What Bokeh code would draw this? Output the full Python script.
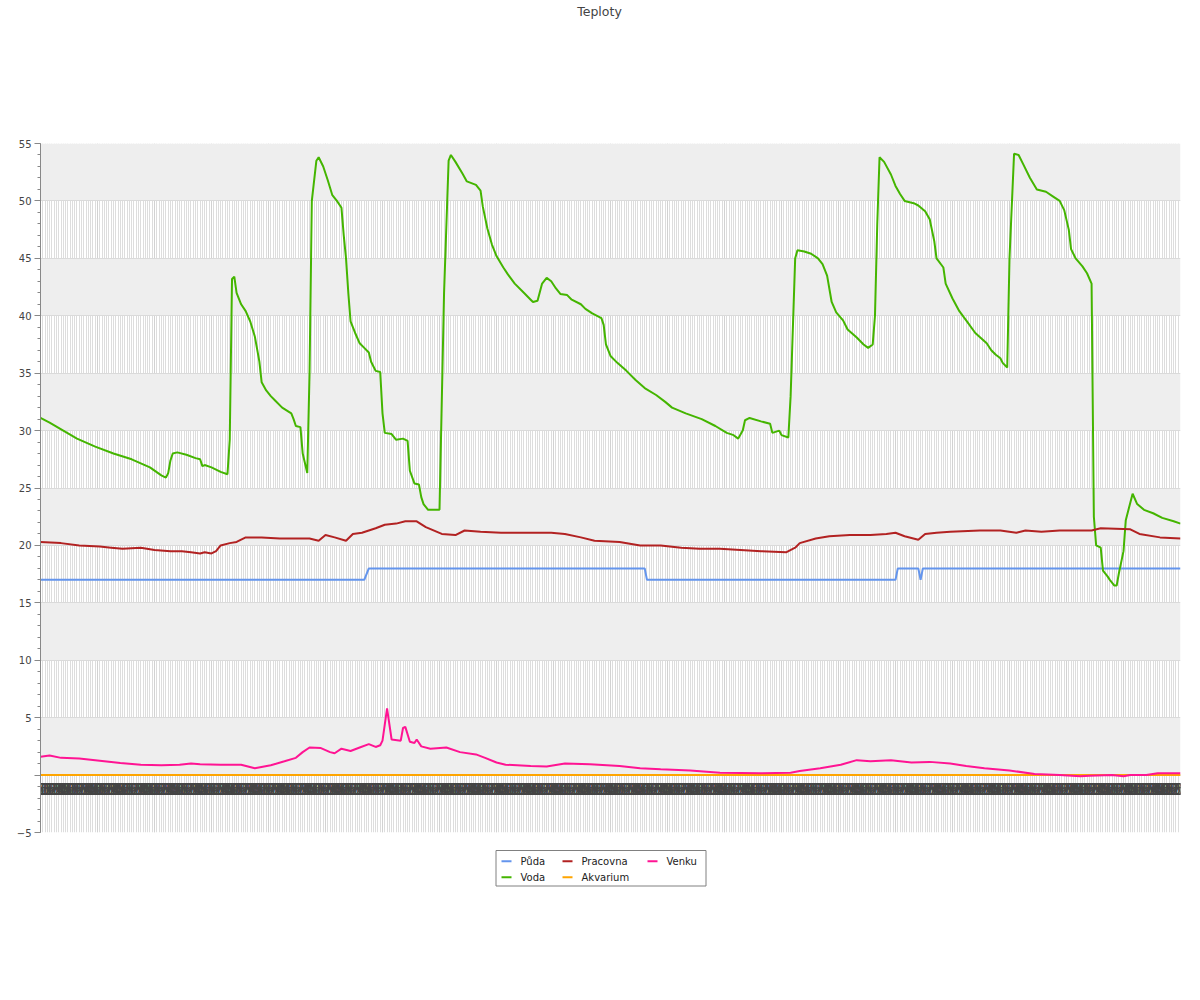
from bokeh.plotting import figure
from bokeh.layouts import column
from bokeh.models import (FixedTicker, SingleIntervalTicker, Range1d, Span, ColumnDataSource)
from bokeh.core.properties import value
from bokeh.embed import file_html
from bokeh.resources import INLINE

FONT = "DejaVu Sans"

# ---------------- data (x = sample index, y = temperature) ----------------
n_samples = 501
# x tick labels (illegible in the original, one per sample, minute marks)
x_labels = [f"{(25 - 5 * (n_samples - 1 - i)) % 60:02d}" for i in range(n_samples)]

puda_idx = [0, 142, 144, 265, 266, 375, 376, 385, 386, 387, 500]
puda_val = [17, 17, 18, 18, 17, 17, 18, 18, 17, 18, 18]

voda_idx = [0, 4, 10, 16, 24, 32, 40, 48, 53, 55, 56, 57, 58, 60, 64, 68, 70, 71, 72, 75,
            77, 79, 82, 83, 84, 85, 86, 88, 90, 92, 94, 96, 97, 99, 101, 103, 106, 110, 111, 112,
            114, 115, 117, 118, 119, 121, 122, 124, 126, 128, 130, 132, 133, 134, 135, 136, 138, 140, 142, 144,
            145, 147, 149, 150, 151, 154, 156, 159, 161, 162, 164, 166, 167, 168, 170, 175, 177, 179, 180, 182,
            185, 187, 191, 193, 194, 196, 198, 200, 203, 205, 208, 212, 215, 216, 218, 220, 222, 224, 226, 228,
            231, 233, 237, 239, 242, 246, 247, 248, 250, 253, 257, 261, 265, 270, 274, 277, 283, 290, 296, 301,
            304, 306, 308, 309, 311, 316, 320, 321, 324, 325, 328, 329, 331, 332, 335, 338, 341, 343, 345, 347,
            349, 352, 354, 358, 361, 363, 365, 366, 367, 368, 370, 373, 375, 377, 379, 383, 385, 388, 390, 392,
            393, 396, 397, 400, 403, 406, 410, 415, 417, 419, 421, 422, 424, 425, 427, 429, 431, 434, 437, 441,
            444, 447, 449, 451, 452, 454, 457, 459, 461, 462, 463, 465, 466, 468, 469, 471, 472, 473, 475, 476,
            479, 481, 484, 488, 492, 497, 500]
voda_val = [31.1, 30.7, 30.0, 29.3, 28.6, 28.0, 27.5, 26.8, 26.1, 25.9, 26.3, 27.4, 28.0, 28.1, 27.9, 27.6, 27.5, 26.9, 27.0, 26.8,
            26.6, 26.4, 26.2, 29.2, 43.2, 43.4, 42.0, 41.0, 40.4, 39.5, 38.2, 36.0, 34.2, 33.5, 33.0, 32.6, 32.0, 31.5, 31.0, 30.4,
            30.3, 28.0, 26.3, 35.0, 50.0, 53.5, 53.8, 53.0, 51.8, 50.5, 50.0, 49.4, 47.0, 45.0, 42.0, 39.5, 38.5, 37.6, 37.2, 36.8,
            36.0, 35.2, 35.1, 31.5, 29.8, 29.7, 29.2, 29.3, 29.1, 26.5, 25.4, 25.3, 24.2, 23.6, 23.1, 23.1, 42.0, 53.5, 54.0, 53.4,
            52.4, 51.7, 51.4, 50.9, 49.5, 47.6, 46.2, 45.2, 44.2, 43.6, 42.8, 42.0, 41.4, 41.2, 41.3, 42.8, 43.3, 43.0, 42.4, 41.9,
            41.8, 41.4, 41.0, 40.6, 40.2, 39.8, 39.2, 37.5, 36.5, 35.9, 35.2, 34.4, 33.7, 33.1, 32.5, 32.0, 31.5, 31.0, 30.4, 29.8,
            29.6, 29.3, 30.0, 30.9, 31.1, 30.8, 30.6, 29.8, 30.0, 29.6, 29.4, 33.0, 45.0, 45.7, 45.6, 45.4, 45.0, 44.5, 43.5, 41.2,
            40.3, 39.6, 38.8, 38.1, 37.5, 37.2, 37.5, 40.0, 48.0, 53.8, 53.4, 52.3, 51.3, 50.6, 50.0, 49.8, 49.6, 49.1, 48.4, 46.5,
            45.0, 44.2, 42.8, 41.5, 40.4, 39.6, 38.5, 37.6, 37.0, 36.6, 36.3, 35.9, 35.5, 45.0, 54.1, 54.0, 53.2, 52.0, 51.0, 50.8,
            50.4, 50.0, 49.2, 47.5, 45.8, 45.0, 44.3, 43.7, 42.8, 22.5, 20.0, 19.8, 17.8, 17.3, 17.0, 16.5, 16.5, 17.6, 19.5, 22.2,
            24.5, 23.6, 23.1, 22.8, 22.4, 22.1, 21.9]

pracovna_idx = [0, 9, 17, 26, 31, 36, 44, 50, 57, 62, 66, 70, 72, 75, 77, 79, 83, 86, 90, 97,
                105, 114, 118, 122, 125, 129, 134, 137, 141, 147, 151, 156, 160, 165, 169, 176, 182, 186, 193, 202,
                211, 224, 230, 237, 243, 254, 263, 272, 281, 289, 298, 307, 316, 327, 331, 333, 340, 346, 355, 364,
                371, 375, 379, 385, 388, 393, 399, 412, 421, 428, 432, 439, 447, 461, 465, 478, 482, 491, 500]
pracovna_val = [20.3, 20.2, 20.0, 19.9, 19.8, 19.7, 19.8, 19.6, 19.5, 19.5, 19.4, 19.3, 19.4, 19.3, 19.5, 20.0, 20.2, 20.3, 20.7, 20.7,
                20.6, 20.6, 20.6, 20.4, 20.9, 20.7, 20.4, 21.0, 21.1, 21.5, 21.8, 21.9, 22.1, 22.1, 21.6, 21.0, 20.9, 21.3, 21.2, 21.1,
                21.1, 21.1, 21.0, 20.7, 20.4, 20.3, 20.0, 20.0, 19.8, 19.7, 19.7, 19.6, 19.5, 19.4, 19.8, 20.2, 20.6, 20.8, 20.9, 20.9,
                21.0, 21.1, 20.8, 20.5, 21.0, 21.1, 21.2, 21.3, 21.3, 21.1, 21.3, 21.2, 21.3, 21.3, 21.5, 21.4, 21.0, 20.7, 20.6]

akvarium_idx = [0, 500]
akvarium_val = [0, 0]

venku_idx = [0, 4, 9, 17, 26, 35, 44, 53, 61, 66, 70, 79, 88, 94, 101, 107, 112, 115, 118, 123,
             127, 129, 132, 136, 140, 144, 147, 149, 150, 152, 154, 158, 159, 160, 162, 164, 165, 167, 171, 178,
             184, 191, 195, 200, 204, 215, 222, 230, 241, 254, 263, 272, 285, 298, 316, 329, 333, 342, 351, 358,
             364, 373, 382, 390, 399, 406, 414, 425, 436, 447, 456, 460, 470, 475, 478, 485, 490, 500]
venku_val = [1.6, 1.7, 1.5, 1.45, 1.25, 1.05, 0.9, 0.85, 0.9, 1.0, 0.95, 0.9, 0.9, 0.6, 0.85, 1.2, 1.5, 2.0, 2.4, 2.35,
             2.0, 1.9, 2.3, 2.1, 2.4, 2.7, 2.45, 2.6, 3.0, 5.8, 3.1, 3.0, 4.1, 4.2, 2.9, 2.8, 3.1, 2.5, 2.3, 2.4,
             2.0, 1.8, 1.5, 1.1, 0.9, 0.8, 0.75, 1.0, 0.95, 0.8, 0.6, 0.5, 0.4, 0.2, 0.15, 0.2, 0.35, 0.6, 0.9, 1.3,
             1.2, 1.3, 1.1, 1.15, 1.0, 0.8, 0.6, 0.4, 0.1, 0.0, -0.1, -0.05, 0.0, -0.1, 0.0, 0.0, 0.15, 0.15]

y_ticks = [-5, 0, 5, 10, 15, 20, 25, 30, 35, 40, 45, 50, 55]
title_text = "Teploty"

series_names = ["Půda", "Voda", "Pracovna", "Akvarium", "Venku"]
series_colors = ["#6495ed", "#44b500", "#b22222", "#ffa500", "#ff1493"]
series_idx = [puda_idx, voda_idx, pracovna_idx, akvarium_idx, venku_idx]
series_val = [puda_val, voda_val, pracovna_val, akvarium_val, venku_val]

PAGE_W = 1200
FL, FR = 40, 1180  # frame edges (column layout aligns the frames of all three strips)


def blank_fig(h):
    f = figure(width=PAGE_W, height=h, x_range=Range1d(FL, FR), y_range=Range1d(h, 0),
               output_backend="svg", toolbar_location=None,
               min_border_left=FL, min_border_right=PAGE_W - FR, min_border_top=0, min_border_bottom=0,
               x_axis_location=None, y_axis_location=None,
               background_fill_color="white", border_fill_color="white")
    f.outline_line_color = None
    f.grid.visible = False
    return f


# ---------------- title strip ----------------
TH = 30
t = blank_fig(TH)
t.text(x=[599], y=[11], text=[title_text], text_align="center", text_baseline="alphabetic",
       text_font=value(FONT), text_font_size="12.5px", text_color="#444444")

# ---------------- main chart ----------------
FW, FH = FR - FL, 689
p = figure(frame_width=FW, frame_height=FH, output_backend="svg", toolbar_location=None,
           x_range=Range1d(0, n_samples - 1), y_range=Range1d(-5, 55),
           min_border_left=FL, min_border_right=PAGE_W - FR, min_border_top=143 - TH, min_border_bottom=10,
           background_fill_color="white", border_fill_color="white")
p.outline_line_color = None

p.xgrid.ticker = SingleIntervalTicker(interval=25, num_minor_ticks=25)
p.xgrid.grid_line_color = "#d2d2d2"
p.xgrid.minor_grid_line_color = "#dddddd"
p.ygrid.ticker = FixedTicker(ticks=y_ticks)
p.ygrid.grid_line_color = "#dadada"
p.ygrid.band_fill_color = "#eeeeee"
p.ygrid.band_fill_alpha = 1.0

p.xaxis.visible = False

ax = p.yaxis[0]
ax.ticker = FixedTicker(ticks=y_ticks, minor_ticks=list(range(-5, 56)))
ax.major_label_overrides = {0: ""}
ax.axis_line_color = "#888888"
ax.major_tick_line_color = "#888888"
ax.minor_tick_line_color = "#888888"
ax.major_tick_out = 6
ax.major_tick_in = 0
ax.minor_tick_out = 3
ax.minor_tick_in = 0
ax.major_label_standoff = 3
ax.major_label_text_font = FONT
ax.major_label_text_font_size = "10px"
ax.major_label_text_color = "#444444"

p.add_layout(Span(location=0, dimension="width", line_color="#999999", line_width=1, level="underlay"))

lab_src = ColumnDataSource(dict(x=list(range(n_samples)), y=[0] * n_samples, t=x_labels))
p.text(x="x", y="y", text="t", source=lab_src, text_align="center", text_baseline="top",
       y_offset=8, text_font=value(FONT), text_font_size="15px", text_color="#444444")

for xs, ys, col in zip(series_idx, series_val, series_colors):
    p.line(xs, ys, line_color=col, line_width=2)

# ---------------- legend strip ----------------
LH = 60
lg = blank_fig(LH)
lg.quad(left=[495.5], right=[705.5], top=[8], bottom=[43.5],
        fill_color="white", line_color="#808080", line_width=1)
leg_x = [501, 501, 562, 562, 647]
leg_y = [18.7, 34.7, 18.7, 34.7, 18.7]
lg.segment(x0=leg_x, y0=leg_y, x1=[v + 10 for v in leg_x], y1=leg_y,
           line_color=series_colors, line_width=2)
lg.text(x=[v + 19 for v in leg_x], y=leg_y, text=series_names, text_align="left",
        text_baseline="middle", text_font=value(FONT), text_font_size="10px", text_color="#222222")

layout = column(t, p, lg, spacing=0)
open("out.html", "w").write(file_html(layout, INLINE))
